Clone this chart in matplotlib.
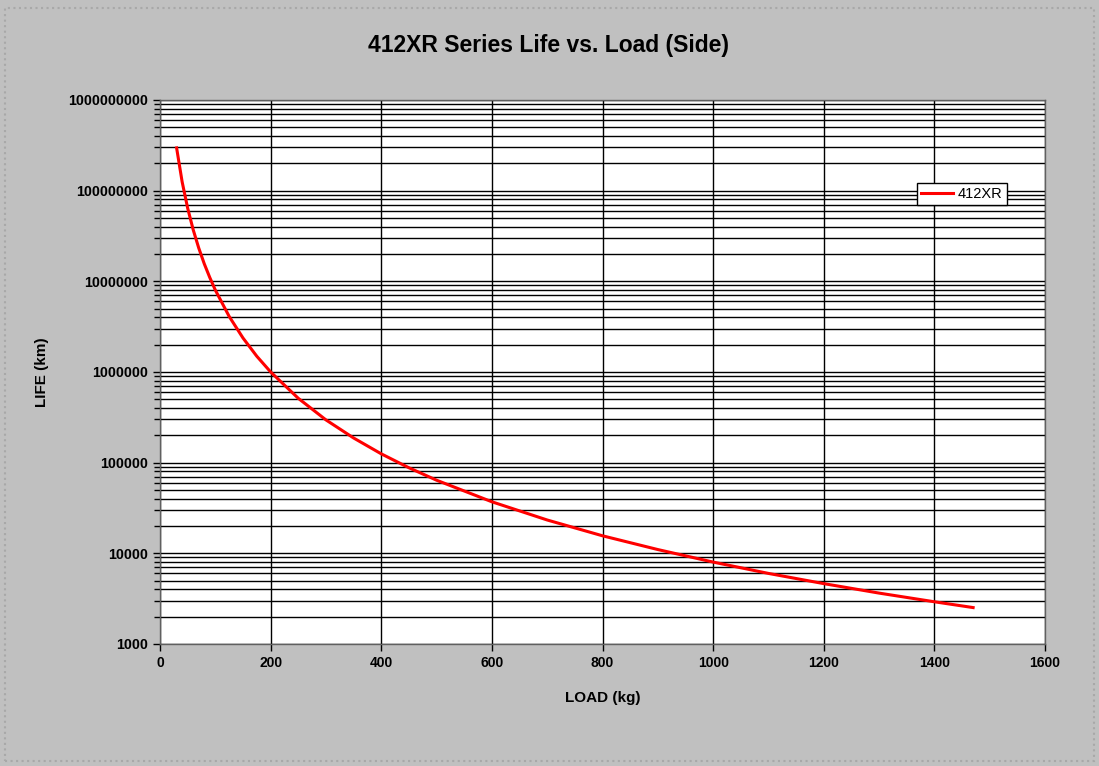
import matplotlib
matplotlib.use("Agg")
import matplotlib.pyplot as plt
from matplotlib.patches import Rectangle
from matplotlib.ticker import LogLocator, FixedLocator

# load (kg) vs life (km)
load = [30, 40, 50, 60, 70, 80, 90, 100, 125, 150, 175, 200, 250, 300, 350,
        400, 450, 500, 600, 700, 800, 900, 1000, 1100, 1200, 1300, 1400, 1470]
life = [2.96e8, 1.25e8, 6.4e7, 3.7e7, 2.33e7, 1.56e7, 1.1e7, 8.0e6, 4.1e6,
        2.37e6, 1.49e6, 1.0e6, 5.12e5, 2.96e5, 1.87e5, 1.25e5, 8.78e4, 6.4e4,
        3.7e4, 2.33e4, 1.56e4, 1.1e4, 8.0e3, 6.0e3, 4.63e3, 3.64e3, 2.92e3, 2.52e3]
x_ticks = [0, 200, 400, 600, 800, 1000, 1200, 1400, 1600]
y_ticks = [1e3, 1e4, 1e5, 1e6, 1e7, 1e8, 1e9]

plt.rcParams['font.family'] = ['Liberation Sans', 'DejaVu Sans']

fig = plt.figure(figsize=(10.99, 7.66), dpi=100, facecolor='#c0c0c0')
fig.patches.append(Rectangle((0.005, 0.006), 0.99, 0.983, transform=fig.transFigure,
                             fill=False, edgecolor='#a8a8a8', linestyle=':', lw=1.5))
ax = fig.add_axes([0.1456, 0.1593, 0.8053, 0.7102])
ax.set_facecolor('white')

ax.plot(load, life, color='red', lw=2.2, label='412XR')

ax.set_yscale('log')
ax.set_xlim(0, 1600)
ax.set_ylim(1e3, 1e9)
ax.xaxis.set_major_locator(FixedLocator(x_ticks))
ax.yaxis.set_major_locator(FixedLocator(y_ticks))
ax.yaxis.set_minor_locator(LogLocator(base=10, subs=range(2, 10), numticks=20))
ax.set_xticklabels([str(v) for v in x_ticks], fontsize=10, fontweight='bold')
ax.set_yticklabels([str(int(v)) for v in y_ticks], fontsize=10.3, fontweight='bold')
ax.yaxis.set_minor_formatter(plt.NullFormatter())
ax.tick_params(axis='both', which='major', direction='out', length=5, width=1, color='black')
ax.tick_params(axis='y', which='minor', direction='out', length=4, width=1, color='black')

ax.grid(True, which='major', color='black', lw=1)
ax.grid(True, which='minor', axis='y', color='black', lw=1)
for s in ax.spines.values():
    s.set_color('#606060')
    s.set_linewidth(1)

# title is centred on the whole figure, with wide letter spacing
fig.text(0.499, 0.941, '412XR Series Life vs. Load (Side)', fontsize=16.5,
         fontweight='bold', ha='center', va='center')
ax.set_xlabel('LOAD (kg)', fontsize=11, fontweight='bold', labelpad=15)
ax.set_ylabel('LIFE (km)', fontsize=11, fontweight='bold', labelpad=14)

leg = ax.legend(loc='upper right', bbox_to_anchor=(0.957, 0.848), fontsize=10.5,
                frameon=True, fancybox=False, borderpad=0.3, handlelength=2.2,
                handletextpad=0.3, borderaxespad=0)
leg.get_frame().set_edgecolor('black')
leg.get_frame().set_linewidth(1)
leg.get_frame().set_alpha(1)

fig.savefig('out.png', dpi=100, facecolor=fig.get_facecolor())
